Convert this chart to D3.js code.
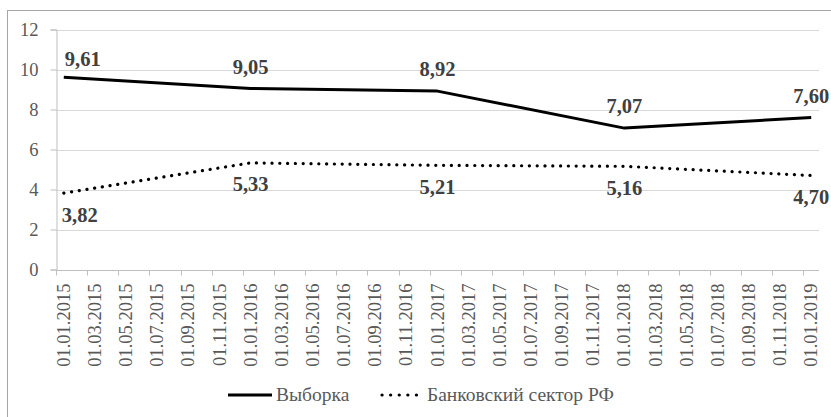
<!DOCTYPE html>
<html><head><meta charset="utf-8">
<script src="https://cdn.jsdelivr.net/npm/d3@7"></script>
<style>body{margin:0;background:#fff}svg{display:block}
svg text{font-family:"Liberation Serif","Times New Roman",Tinos,serif}</style>
</head><body>
<svg id="c" width="831" height="417"></svg>
<script>
// Monthly bands from 01.01.2015 to 01.01.2019; labels every 2 months
const months = [];
for (let y = 2015; y <= 2019; y++) for (let m = 1; m <= 12; m++) { if (y === 2019 && m > 1) break; months.push("01." + String(m).padStart(2, "0") + "." + y); }
const tickLabels = months.filter((d, i) => i % 2 === 0);
const pointDates = ["01.01.2015", "01.01.2016", "01.01.2017", "01.01.2018", "01.01.2019"];
const sampleValues = [9.61, 9.05, 8.92, 7.07, 7.60];
const bankValues = [3.82, 5.33, 5.21, 5.16, 4.70];
const yTicks = [0, 2, 4, 6, 8, 10, 12];
const seriesNames = ["Выборка", "Банковский сектор РФ"];

const svg = d3.select("#c");
const L = 56, R = 819, T = 29.5, B = 269.5;

svg.append("rect").attr("x", 7.5).attr("y", 10.5).attr("width", 1000).attr("height", 1000)
  .attr("fill", "none").attr("stroke", "#a6a6a6").attr("stroke-width", 1);

const x = d3.scaleBand().domain(months).range([L, R]).paddingInner(0).paddingOuter(0);
const y = d3.scaleLinear().domain([0, 12]).range([B, T]);
const cx = d => x(d) + x.bandwidth() / 2;

// gridlines
svg.append("g").selectAll("line").data(yTicks.filter(v => v > 0)).join("line")
  .attr("x1", L).attr("x2", R).attr("y1", d => Math.round(y(d)) + 0.5).attr("y2", d => Math.round(y(d)) + 0.5)
  .attr("stroke", "#d9d9d9").attr("stroke-width", 1);

// y axis
const yAxis = svg.append("g").attr("transform", `translate(${L + 0.5},0)`)
  .call(d3.axisLeft(y).tickValues(yTicks).tickSize(6).tickPadding(12).tickFormat(d3.format("d")));
yAxis.attr("font-family", null).attr("font-size", null);
yAxis.select(".domain").attr("stroke", "#bfbfbf");
yAxis.selectAll(".tick line").attr("stroke", "#bfbfbf");
yAxis.selectAll(".tick text").attr("font-size", 18.5).attr("fill", "#595959");

// x axis
const xg = svg.append("g").attr("transform", `translate(0,${Math.round(B) + 0.5})`);
xg.append("line").attr("x1", L).attr("x2", R).attr("stroke", "#bfbfbf");
xg.selectAll("line.tk").data(tickLabels).join("line").attr("class", "tk")
  .attr("x1", d => Math.round(x(d)) + 0.5).attr("x2", d => Math.round(x(d)) + 0.5)
  .attr("y1", 0).attr("y2", 5).attr("stroke", "#bfbfbf");
xg.selectAll("text").data(tickLabels).join("text")
  .attr("transform", d => `translate(${cx(d)},13) rotate(-90)`)
  .attr("text-anchor", "end").attr("dy", "0.33em")
  .attr("font-size", 18.5).attr("fill", "#595959")
  .text(d => d);

// lines
const pts = v => pointDates.map((d, i) => [cx(d), y(v[i])]);
const line = d3.line();
svg.append("path").attr("d", line(pts(sampleValues))).attr("fill", "none")
  .attr("stroke", "#000").attr("stroke-width", 3).attr("stroke-linejoin", "round");
svg.append("path").attr("d", line(pts(bankValues))).attr("fill", "none")
  .attr("stroke", "#000").attr("stroke-width", 3.2).attr("stroke-linecap", "round")
  .attr("stroke-dasharray", "0.1 7.7");

// data labels
const fmt = v => v.toFixed(2).replace(".", ",");
const labG = svg.append("g").attr("font-size", 20.5)
  .attr("font-weight", "bold").attr("fill", "#404040");
labG.selectAll("text.s").data(sampleValues).join("text").attr("class", "s")
  .attr("x", (v, i) => i === 0 ? cx(pointDates[i]) + 1 : cx(pointDates[i]))
  .attr("y", (v, i) => y(v) - (i === 0 ? 11 : 15))
  .attr("text-anchor", (v, i) => i === 0 ? "start" : "middle").text(fmt);
labG.selectAll("text.b").data(bankValues).join("text").attr("class", "b")
  .attr("x", (v, i) => i === 0 ? cx(pointDates[i]) - 2 : cx(pointDates[i]))
  .attr("y", v => y(v) + 28.5)
  .attr("text-anchor", (v, i) => i === 0 ? "start" : "middle").text(fmt);

// legend
const lg = svg.append("g").attr("font-size", 19.5).attr("fill", "#595959");
lg.append("line").attr("x1", 228).attr("x2", 272).attr("y1", 395).attr("y2", 395)
  .attr("stroke", "#000").attr("stroke-width", 3);
lg.append("text").attr("x", 276).attr("y", 401).text(seriesNames[0]);
lg.append("line").attr("x1", 382).attr("x2", 425).attr("y1", 395).attr("y2", 395)
  .attr("stroke", "#000").attr("stroke-width", 3.2).attr("stroke-linecap", "round").attr("stroke-dasharray", "0.1 8.5");
lg.append("text").attr("x", 427).attr("y", 401).text(seriesNames[1]);
</script>
</body></html>
